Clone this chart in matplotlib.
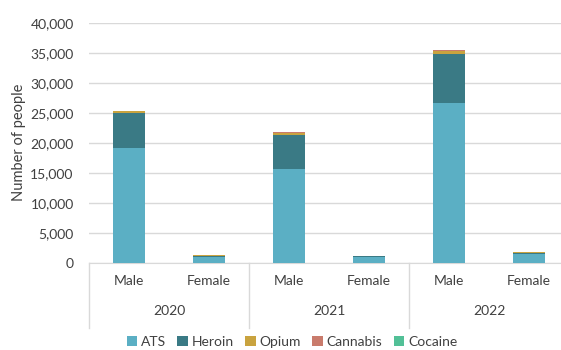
import numpy as np
import matplotlib.pyplot as plt
from matplotlib.ticker import FuncFormatter
from matplotlib.transforms import blended_transform_factory

plt.rcParams['font.family'] = ['Lato', 'DejaVu Sans']

years = ['2020', '2021', '2022']
sexes = ['Male', 'Female']
drugs = ['ATS', 'Heroin', 'Opium', 'Cannabis', 'Cocaine']
colors = ['#5BAFC4', '#3A7A85', '#C9A33F', '#C97B6C', '#52C097']

# order: 2020 M, 2020 F, 2021 M, 2021 F, 2022 M, 2022 F
ats = [19100, 1000, 15700, 950, 26700, 1450]
heroin = [5900, 200, 5600, 150, 8100, 120]
opium = [250, 30, 350, 30, 500, 150]
cannabis = [80, 20, 60, 20, 150, 60]
cocaine = [10, 5, 10, 5, 20, 5]
series = [ats, heroin, opium, cannabis, cocaine]

fig = plt.figure(figsize=(5.61, 3.5), dpi=100)
ax = fig.add_axes([89 / 561, 0.2494, 480 / 561, 0.6857])

x = np.arange(len(ats))
bottom = np.zeros(len(ats))
for name, vals, c in zip(drugs, series, colors):
    ax.bar(x, vals, 0.41, bottom=bottom, color=c, label=name, zorder=3)
    bottom += np.array(vals)

ax.set_xlim(-0.5, len(ats) - 0.5)
ax.set_ylim(0, 40000)
ax.set_yticks(np.arange(0, 40001, 5000))
ax.yaxis.set_major_formatter(FuncFormatter(lambda v, p: f'{int(v):,}'))
ax.grid(axis='y', color='#D9D9D9', lw=1, zorder=0)
for s in ['top', 'right', 'left']:
    ax.spines[s].set_visible(False)
ax.spines['bottom'].set_color('#D9D9D9')
ax.tick_params(axis='y', length=0, pad=11, labelsize=10, colors='#404040')
ax.tick_params(axis='x', length=0, labelbottom=False)
ax.set_ylabel('Number of people', fontsize=10.5, color='#404040', labelpad=3)

tr = blended_transform_factory(ax.transData, ax.transAxes)
for i in range(len(ats)):
    ax.text(i, -0.075, sexes[i % 2], transform=tr, ha='center', va='center',
            fontsize=10, color='#404040')
for j, yr in enumerate(years):
    ax.text(2 * j + 0.5, -0.2, yr, transform=tr, ha='center', va='center',
            fontsize=10, color='#404040')
for b in [-0.5, 1.5, 3.5, 5.5]:
    ax.plot([b, b], [0, -0.27], transform=tr, color='#D9D9D9', lw=1,
            clip_on=False)

fig.legend(loc='center', bbox_to_anchor=(292 / 561, 8 / 350), ncol=5,
           frameon=False, fontsize=10, handlelength=0.75, handleheight=0.75,
           handletextpad=0.3, columnspacing=0.8, labelcolor='#404040')

fig.savefig('out.png', dpi=100)
